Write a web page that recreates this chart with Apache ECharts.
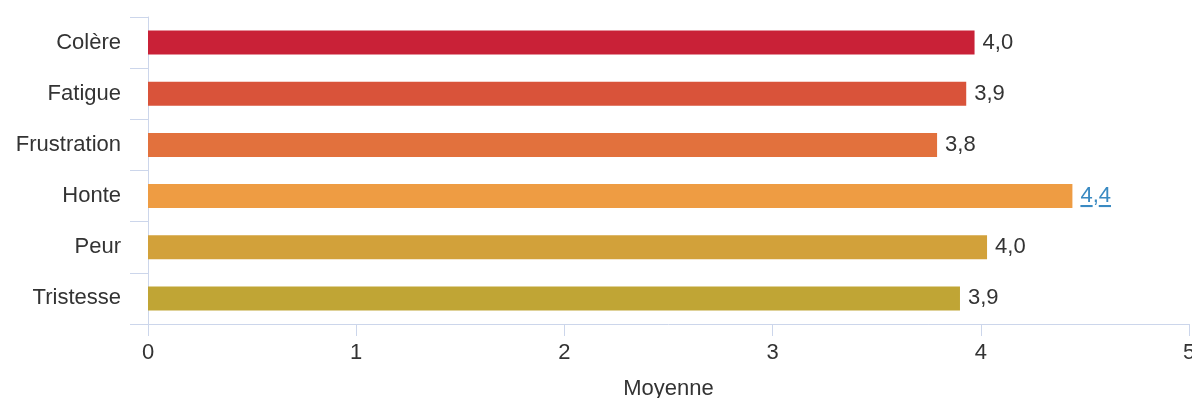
<!DOCTYPE html>
<html>
<head>
<meta charset="utf-8">
<script src="https://cdn.jsdelivr.net/npm/echarts@6/dist/echarts.min.js"></script>
<style>
  html, body { margin: 0; padding: 0; background: #ffffff; }
  #chart { width: 1192px; height: 398px; }
</style>
</head>
<body>
<div id="chart"></div>
<script>
// Mean score per emotion
const categories = ['Colère', 'Fatigue', 'Frustration', 'Honte', 'Peur', 'Tristesse'];
const values = [3.97, 3.93, 3.79, 4.44, 4.03, 3.9];
const barColors = ['#C92137', '#D9533A', '#E2713D', '#EE9C43', '#D2A13A', '#C0A535'];
const xTicks = [0, 1, 2, 3, 4, 5];
const axisName = 'Moyenne';
const linkedCategory = 'Honte';

const font = '"Liberation Sans", Arial, sans-serif';
const axisColor = '#CCD6EB';
const textColor = '#333333';

const fmt = v => v.toFixed(1).replace('.', ',');

const data = values.map((v, i) => {
  const item = { value: v, itemStyle: { color: barColors[i] } };
  if (categories[i] === linkedCategory) {
    item.label = {
      formatter: p => '{d|' + fmt(p.value)[0] + '}{c|,}{d|' + fmt(p.value)[2] + '}',
      rich: {
        d: {
          color: '#3A8AC2', fontSize: 22, fontFamily: font,
          backgroundColor: {
            type: 'linear', x: 0, y: 0, x2: 0, y2: 1,
            colorStops: [
              { offset: 0, color: 'rgba(0,0,0,0)' },
              { offset: 0.9, color: 'rgba(0,0,0,0)' },
              { offset: 0.9, color: '#3A8AC2' },
              { offset: 1, color: '#3A8AC2' }
            ]
          }
        },
        c: { color: '#3A8AC2', fontSize: 22, fontFamily: font }
      }
    };
  }
  return item;
});

const chart = echarts.init(document.getElementById('chart'), null, { renderer: 'canvas' });
chart.setOption({
  animation: false,
  backgroundColor: '#ffffff',
  grid: { left: 148, right: 3, top: 17, bottom: 74, containLabel: false, outerBoundsMode: 'none' },
  xAxis: {
    type: 'value',
    min: xTicks[0],
    max: xTicks[xTicks.length - 1],
    interval: 1,
    name: axisName,
    nameLocation: 'middle',
    nameGap: 54,
    nameTextStyle: { color: textColor, fontSize: 22, fontFamily: font },
    axisLine: { show: true, lineStyle: { color: axisColor, width: 1 } },
    axisTick: { show: true, length: 12, lineStyle: { color: axisColor } },
    axisLabel: { color: textColor, fontSize: 22, fontFamily: font, margin: 18 },
    splitLine: { show: false }
  },
  yAxis: {
    type: 'category',
    data: categories,
    inverse: true,
    axisLine: { show: true, lineStyle: { color: axisColor, width: 1 } },
    axisTick: { show: true, length: 18, lineStyle: { color: axisColor } },
    axisLabel: { color: textColor, fontSize: 22, fontFamily: font, margin: 27 },
    splitLine: { show: false }
  },
  series: [{
    type: 'bar',
    data: data,
    barWidth: 24,
    label: {
      show: true,
      position: 'right',
      distance: 8,
      color: textColor,
      fontSize: 22,
      fontFamily: font,
      formatter: p => fmt(p.value)
    }
  }]
});
</script>
</body>
</html>
